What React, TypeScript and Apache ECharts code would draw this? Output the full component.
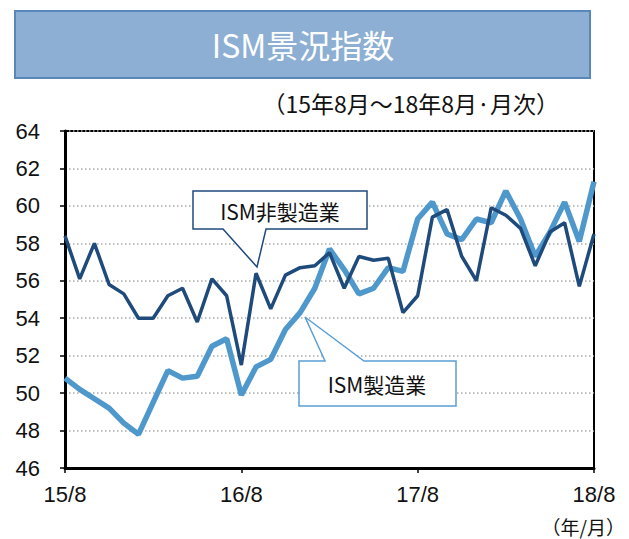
import React, { useEffect, useRef } from "react";
import * as echarts from "echarts";

const months: string[] = [
  "15/8", "15/9", "15/10", "15/11", "15/12", "16/1", "16/2", "16/3", "16/4", "16/5", "16/6", "16/7",
  "16/8", "16/9", "16/10", "16/11", "16/12", "17/1", "17/2", "17/3", "17/4", "17/5", "17/6", "17/7",
  "17/8", "17/9", "17/10", "17/11", "17/12", "18/1", "18/2", "18/3", "18/4", "18/5", "18/6", "18/7",
  "18/8",
];

const nonManufacturing: number[] = [
  58.4, 56.1, 58.0, 55.8, 55.3, 54.0, 54.0, 55.2, 55.6, 53.8, 56.1, 55.2,
  51.5, 56.4, 54.5, 56.3, 56.7, 56.8, 57.5, 55.6, 57.3, 57.1, 57.2, 54.3,
  55.2, 59.4, 59.8, 57.3, 56.0, 59.9, 59.5, 58.8, 56.8, 58.6, 59.1, 55.7,
  58.5,
];

const manufacturing: number[] = [
  50.8, 50.2, 49.7, 49.2, 48.4, 47.8, 49.5, 51.2, 50.8, 50.9, 52.5, 52.9,
  49.9, 51.4, 51.8, 53.4, 54.3, 55.6, 57.7, 56.6, 55.3, 55.6, 56.7, 56.5,
  59.3, 60.2, 58.5, 58.2, 59.3, 59.1, 60.8, 59.3, 57.3, 58.6, 60.2, 58.1,
  61.3,
];

const yMin = 46;
const yMax = 64;
const yStep = 2;

const DARK = "#1F4A7C";
const LIGHT = "#4E98CC";

export default function App() {
  const ref = useRef<HTMLDivElement>(null);

  useEffect(() => {
    if (!ref.current) return;
    const chart = echarts.init(ref.current, null, { renderer: "svg" });
    const axisFont = "'Liberation Sans', Arial, sans-serif";
    const cjkFont = "'Noto Sans CJK JP', 'Noto Sans', sans-serif";

    chart.setOption({
      animation: false,
      backgroundColor: "#ffffff",
      grid: {
        left: 65,
        right: 35,
        top: 131,
        bottom: 71,
        show: true,
        borderColor: "#000",
        borderWidth: 2,
        backgroundColor: "transparent",
      },
      xAxis: {
        type: "category",
        data: months,
        boundaryGap: false,
        axisLine: { lineStyle: { color: "#000", width: 3 } },
        axisTick: { show: true, interval: 11, length: 5, lineStyle: { color: "#000", width: 1.5 } },
        axisLabel: {
          interval: 11,
          margin: 15,
          color: "#111",
          fontSize: 22,
          fontFamily: axisFont,
        },
        splitLine: { show: false },
      },
      yAxis: {
        type: "value",
        min: yMin,
        max: yMax,
        interval: yStep,
        axisLine: { show: true, lineStyle: { color: "#000", width: 3 } },
        axisTick: { show: true, length: 5, lineStyle: { color: "#000", width: 1.5 } },
        axisLabel: {
          margin: 25,
          color: "#111",
          fontSize: 22,
          fontFamily: axisFont,
        },
        splitLine: {
          show: true,
          lineStyle: { color: "#aaaaaa", width: 1.5, type: [1.5, 2.5] },
        },
      },
      series: [
        {
          name: "ISM製造業",
          type: "line",
          data: manufacturing,
          symbol: "none",
          lineStyle: { color: LIGHT, width: 5.5 },
          z: 2,
        },
        {
          name: "ISM非製造業",
          type: "line",
          data: nonManufacturing,
          symbol: "none",
          lineStyle: { color: DARK, width: 3.5 },
          z: 3,
        },
      ],
      graphic: [
        {
          type: "rect",
          shape: { x: 15, y: 11, width: 575, height: 67 },
          style: { fill: "#8CAFD3", stroke: "#5A87BB", lineWidth: 2 },
          z: 10,
        },
        {
          type: "text",
          x: 303,
          y: 44,
          style: {
            text: "ISM景況指数",
            fill: "#ffffff",
            font: `32px ${cjkFont}`,
            textAlign: "center",
            textVerticalAlign: "middle",
          },
          z: 11,
        },
        {
          type: "text",
          x: 559,
          y: 103,
          style: {
            text: "（15年8月～18年8月·月次）",
            fill: "#111",
            font: `23px ${cjkFont}`,
            textAlign: "right",
            textVerticalAlign: "middle",
          },
          z: 11,
        },
        {
          type: "text",
          x: 625,
          y: 526,
          style: {
            text: "（年/月）",
            fill: "#111",
            font: `19px ${cjkFont}`,
            textAlign: "right",
            textVerticalAlign: "middle",
          },
          z: 11,
        },
        {
          type: "polygon",
          shape: {
            points: [
              [193, 191], [367, 191], [367, 229], [266, 229], [257, 267], [223, 229], [193, 229],
            ],
          },
          style: { fill: "#ffffff", stroke: DARK, lineWidth: 1.5 },
          z: 20,
        },
        {
          type: "text",
          x: 280,
          y: 211,
          style: {
            text: "ISM非製造業",
            fill: "#111",
            font: `21px ${cjkFont}`,
            textAlign: "center",
            textVerticalAlign: "middle",
          },
          z: 21,
        },
        {
          type: "polygon",
          shape: {
            points: [
              [299, 361], [325, 361], [305, 317], [364, 361], [456, 361], [456, 406], [299, 406],
            ],
          },
          style: { fill: "#ffffff", stroke: "#5A9FD4", lineWidth: 1.5 },
          z: 20,
        },
        {
          type: "text",
          x: 377,
          y: 384,
          style: {
            text: "ISM製造業",
            fill: "#111",
            font: `21px ${cjkFont}`,
            textAlign: "center",
            textVerticalAlign: "middle",
          },
          z: 21,
        },
      ],
    });

    return () => {
      chart.dispose();
    };
  }, []);

  return <div ref={ref} style={{ width: 629, height: 539, position: "absolute", left: 0, top: 0 }} />;
}
